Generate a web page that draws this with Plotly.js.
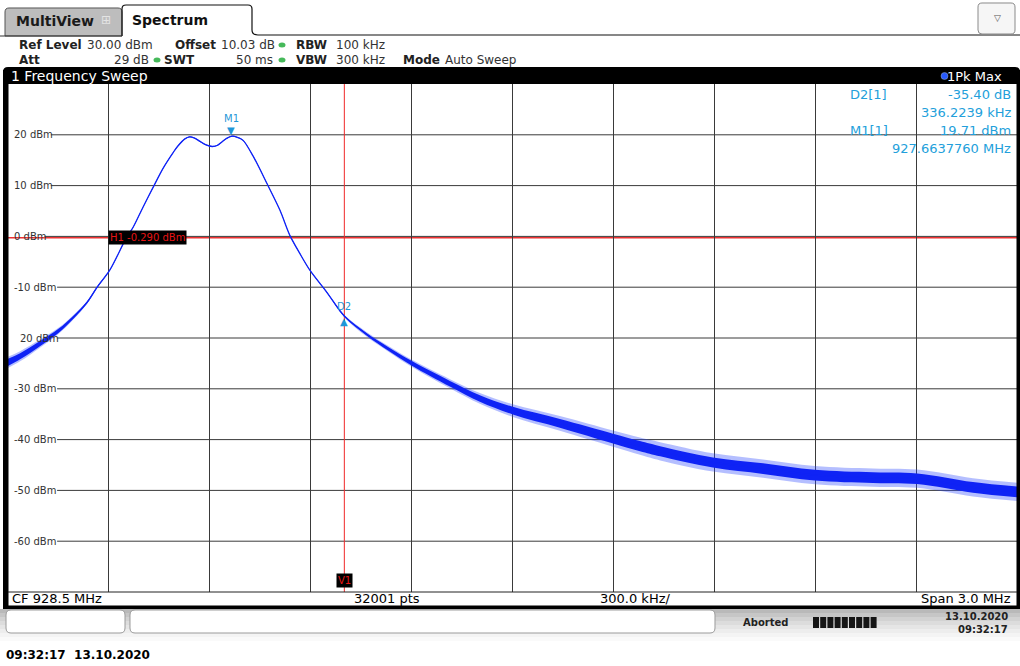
<!DOCTYPE html>
<html><head><meta charset="utf-8">
<script src="https://cdn.plot.ly/plotly-3.0.1.min.js"></script>
<style>html,body{margin:0;padding:0;background:#fff;}#chart{width:1020px;height:666px;}</style>
</head><body><div id="chart"></div>
<script>
// ---- data ----
const freqMHz = [927.000,927.036,927.095,927.150,927.193,927.235,927.265,927.303,927.351,927.372,927.401,927.431,927.461,927.491,927.504,927.526,927.540,927.553,927.571,927.589,927.607,927.622,927.636,927.650,927.664,927.682,927.699,927.728,927.770,927.809,927.838,927.868,927.898,927.948,928.000,928.067,928.130,928.201,928.314,928.403,928.501,928.641,928.799,928.879,928.939,929.096,929.245,929.399,929.572,929.703,929.869,930.000];
const levelDBm = [-24.8,-23.6,-21.1,-18.6,-16.0,-13.0,-10.0,-6.6,-0.4,1.8,5.7,9.6,13.4,16.5,17.7,19.2,19.6,19.4,18.7,18.0,17.7,17.9,18.6,19.3,19.71,19.5,18.9,15.9,10.4,5.1,0.2,-3.4,-6.7,-11.0,-15.69,-19.3,-22.1,-25.0,-29.0,-31.9,-34.3,-36.8,-39.8,-41.3,-42.3,-44.5,-45.7,-47.0,-47.5,-47.7,-49.4,-50.3];
// peak-to-peak noise of the solid trace core and of the spikes (dB)
const coreSpan  = [1.4,1.2,1.0,0.8,0.6,0.4,0.3,0.15,0.15,0.15,0.15,0.15,0.15,0.15,0.15,0.15,0.15,0.15,0.15,0.15,0.15,0.15,0.15,0.15,0.15,0.15,0.15,0.15,0.15,0.15,0.15,0.15,0.15,0.2,0.3,0.5,0.7,0.9,1.1,1.3,1.5,1.7,1.9,2.0,2.0,2.0,2.1,2.1,2.1,2.1,2.1,2.1];
const spikeSpan = [2.2,2.0,1.6,1.2,0.9,0.6,0.4,0.2,0.2,0.2,0.2,0.2,0.2,0.2,0.2,0.2,0.2,0.2,0.2,0.2,0.2,0.2,0.2,0.2,0.2,0.2,0.2,0.2,0.2,0.2,0.2,0.2,0.2,0.3,0.5,0.9,1.1,1.4,1.8,2.1,2.5,2.9,3.2,3.4,3.6,3.6,3.6,3.6,3.6,3.6,3.6,3.6];
const yTicks = [20,10,0,-10,-20,-30,-40,-50,-60];
const yTickText = ["20 dBm","10 dBm","0 dBm","-10 dBm","20 dBm","-30 dBm","-40 dBm","-50 dBm","-60 dBm"];
const xRange = [927.0, 930.0];
const yRange = [-70, 30];
const m1Freq = 927.6637760, m1Level = 19.71;
const d2DeltaKHz = 336.2239, d2DeltaDB = -35.40;
const h1Level = -0.290;
const v1Freq = 928.0;
const markerTable = [["D2[1]","-35.40 dB"],["","336.2239 kHz"],["M1[1]","19.71 dBm"],["","927.6637760 MHz"]];

// ---- geometry helpers (pixel -> paper) ----
const L=8,R=1017,T=84,B=592;
const X=px=>(px-L)/(R-L), Y=py=>(B-py)/(B-T);
function path(pts){
  return pts.map(p=>{const c=p[0];const n=p.slice(1);let s=c;for(let i=0;i<n.length;i+=2){s+=' '+X(n[i]).toFixed(5)+','+Y(n[i+1]).toFixed(5);}return s;}).join(' ');
}
function rrect(x0,y0,x1,y1,r){
  return path([['M',x0+r,y0],['L',x1-r,y0],['Q',x1,y0,x1,y0+r],['L',x1,y1-r],['Q',x1,y1,x1-r,y1],['L',x0+r,y1],['Q',x0,y1,x0,y1-r],['L',x0,y0+r],['Q',x0,y0,x0+r,y0]])+' Z';
}

const d2Freq = m1Freq + d2DeltaKHz/1000;
const d2Level = m1Level + d2DeltaDB;
const blue = 'rgb(15,35,245)';
const band = (arr, sgn) => levelDBm.map((v,i)=>v + sgn*arr[i]/2);

const traces = [
  {x:freqMHz,y:band(spikeSpan,-1),mode:'lines',line:{width:0,shape:'spline'},hoverinfo:'skip',showlegend:false},
  {x:freqMHz,y:band(spikeSpan,1),mode:'lines',line:{width:0,shape:'spline'},fill:'tonexty',fillcolor:'rgba(40,70,255,0.35)',showlegend:false},
  {x:freqMHz,y:band(coreSpan,-1),mode:'lines',line:{width:0,shape:'spline'},showlegend:false},
  {x:freqMHz,y:band(coreSpan,1),mode:'lines',line:{width:0,shape:'spline'},fill:'tonexty',fillcolor:blue,showlegend:false},
  {x:freqMHz,y:levelDBm,mode:'lines',line:{color:blue,width:1.3,shape:'spline',smoothing:0.8},showlegend:false}
];

const font = 'DejaVu Sans, Verdana, sans-serif';
const shapes = [];
const ann = [];
// horizontal grid lines starting after labels
yTicks.forEach((v,i)=>{
  const x0 = (v===-20) ? 18 : 12;
  const endPx = x0 + yTickText[i].length*6.3;
  shapes.push({type:'line',xref:'paper',yref:'y',x0:X(endPx+1),x1:1,y0:v,y1:v,line:{color:'#3a3a3a',width:1},layer:'below'});
  ann.push({xref:'paper',yref:'y',x:X(x0),y:v,xanchor:'left',yanchor:'middle',text:yTickText[i],showarrow:false,font:{family:font,size:10,color:'#333'}});
});
// H1 and V1 lines
shapes.push({type:'line',xref:'paper',yref:'y',x0:0,x1:1,y0:h1Level,y1:h1Level,line:{color:'rgb(235,50,50)',width:1.5},layer:'below'});
shapes.push({type:'line',xref:'x',yref:'paper',x0:v1Freq,x1:v1Freq,y0:0,y1:1,line:{color:'rgb(240,40,40)',width:1},layer:'below'});
// black frame
shapes.push({type:'rect',xref:'paper',yref:'paper',x0:X(3),x1:X(8.5),y0:Y(609),y1:Y(70),fillcolor:'#000',line:{width:0}});
shapes.push({type:'rect',xref:'paper',yref:'paper',x0:X(1016.5),x1:X(1020),y0:Y(609),y1:Y(70),fillcolor:'#000',line:{width:0}});
shapes.push({type:'path',xref:'paper',yref:'paper',path:path([['M',3,84],['L',3,72],['Q',3,67,8,67],['L',1015,67],['Q',1020,67,1020,72],['L',1020,84]])+' Z',fillcolor:'#000',line:{width:0}});
shapes.push({type:'rect',xref:'paper',yref:'paper',x0:X(3),x1:X(1020),y0:Y(609),y1:Y(605.5),fillcolor:'#000',line:{width:0}});
shapes.push({type:'line',xref:'paper',yref:'paper',x0:X(8),x1:X(1017),y0:Y(592),y1:Y(592),line:{color:'#222',width:1}});
// tabs
shapes.push({type:'path',xref:'paper',yref:'paper',path:path([['M',5,36],['L',5,12],['Q',5,8,9,8],['L',118,8],['Q',122,8,122,12],['L',122,36]])+' Z',fillcolor:'#bdbdbd',line:{color:'#555',width:1}});
shapes.push({type:'path',xref:'paper',yref:'paper',path:path([['M',122,36],['L',122,9],['Q',122,5,126,5],['L',248,5],['Q',252,5,252,9],['L',252,30],['Q',252,35,258,35],['L',1020,35]]),fillcolor:'rgba(0,0,0,0)',line:{color:'#111',width:1.2}});
shapes.push({type:'line',xref:'paper',yref:'paper',x0:X(0),x1:X(122),y0:Y(36),y1:Y(36),line:{color:'#333',width:1}});
// dropdown button
shapes.push({type:'path',xref:'paper',yref:'paper',path:rrect(978,3,1015,34,4),fillcolor:'#f6f6f6',line:{color:'#8a8a8a',width:1}});
// green status dots
[[282,45],[157,60],[282,60]].forEach(p=>shapes.push({type:'circle',xref:'paper',yref:'paper',x0:X(p[0]-3.5),x1:X(p[0]+3.5),y0:Y(p[1]+2.5),y1:Y(p[1]-2.5),fillcolor:'rgb(70,185,90)',line:{width:0}}));
// blue trace dot
shapes.push({type:'circle',xref:'paper',yref:'paper',x0:X(941),x1:X(948),y0:Y(79.5),y1:Y(72.5),fillcolor:'rgb(40,90,255)',line:{color:'#9ab',width:0.5}});
// status row gradient
const grad=['#b9b9b9','#c6c6c6','#d2d2d2','#dcdcdc','#e5e5e5','#ededed','#f4f4f4','#fafafa'];
grad.forEach((c,i)=>shapes.push({type:'rect',xref:'paper',yref:'paper',x0:X(0),x1:X(1020),y0:Y(609+4*(i+1)),y1:Y(609+4*i),fillcolor:c,line:{width:0},layer:'below'}));
shapes.push({type:'path',xref:'paper',yref:'paper',path:rrect(6,610,125,633,5),fillcolor:'#fff',line:{color:'#9a9a9a',width:1}});
shapes.push({type:'path',xref:'paper',yref:'paper',path:rrect(130,610,715,633,5),fillcolor:'#fff',line:{color:'#9a9a9a',width:1}});
for(let i=0;i<9;i++){shapes.push({type:'rect',xref:'paper',yref:'paper',x0:X(813+i*7.2),x1:X(813+i*7.2+6),y0:Y(628),y1:Y(617),fillcolor:'#151515',line:{width:0}});}

// text helpers
function t(x,y,text,opt={}){ann.push(Object.assign({xref:'paper',yref:'paper',x:X(x),y:Y(y),text:text,showarrow:false,xanchor:'left',yanchor:'middle',font:{family:font,size:12,color:'#222'}},opt));}
const bold = s=>'<b>'+s+'</b>';
const vf = {family:font,size:12,color:'#333'};
t(14,21,bold('MultiView'),{font:{family:font,size:14,color:'#1a1a1a'}});
t(99,20,'⊞',{font:{family:font,size:12,color:'#e4e4e4'}});
t(130,20,bold('Spectrum'),{font:{family:font,size:14,color:'#111'}});
t(997,18,'▽',{xanchor:'center',font:{family:font,size:9,color:'#555'}});
// info rows
t(17,45,bold('Ref Level'));t(85,45,'30.00 dBm',{font:vf});
t(173,45,bold('Offset'));t(219,45,'10.03 dB',{font:vf});
t(294,45,bold('RBW'));t(334,45,'100 kHz',{font:vf});
t(17,60,bold('Att'));t(151,60,'29 dB',{xanchor:'right',font:vf});
t(162,60,bold('SWT'));t(275,60,'50 ms',{xanchor:'right',font:vf});
t(294,60,bold('VBW'));t(334,60,'300 kHz',{font:vf});
t(401,60,bold('Mode'));t(443,60,'Auto Sweep',{font:vf});
// title bar
t(9,76,'1 Frequency Sweep',{font:{family:font,size:14,color:'#fff'}});
t(1004,76,'1Pk Max',{xanchor:'right',font:{family:font,size:13,color:'#fff'}});
// marker table
const tc='#239fdb';
const rowsY=[95,112.5,130.5,148.5];
markerTable.forEach((r,i)=>{
  if(r[0]) t(848,rowsY[i],r[0],{font:{family:font,size:13,color:tc}});
  t(1013,rowsY[i],r[1],{xanchor:'right',font:{family:font,size:13,color:tc}});
});
// CF bar
t(10,598.5,'CF 928.5 MHz',{font:{family:font,size:13,color:'#000'}});
t(387,598.5,'32001 pts',{xanchor:'center',font:{family:font,size:13,color:'#000'}});
t(635,598.5,'300.0 kHz/',{xanchor:'center',font:{family:font,size:13,color:'#000'}});
t(1013,598.5,'Span 3.0 MHz',{xanchor:'right',font:{family:font,size:13,color:'#000'}});
// status
t(741,622,bold('Aborted'),{font:{family:font,size:10,color:'#222'}});
t(1010,616,bold('13.10.2020'),{xanchor:'right',font:{family:font,size:10,color:'#222'}});
t(1010,629,bold('09:32:17'),{xanchor:'right',font:{family:font,size:10,color:'#222'}});
t(4,655,bold('09:32:17&nbsp;&nbsp;13.10.2020'),{font:{family:font,size:12,color:'#000'}});
// H1 / V1 labels
ann.push({xref:'paper',yref:'y',x:X(108),y:h1Level,xanchor:'left',yanchor:'middle',text:'H1 -0.290 dBm',showarrow:false,bgcolor:'#000',borderpad:1,font:{family:font,size:10,color:'rgb(230,20,20)'}});
ann.push({xref:'x',yref:'paper',x:v1Freq,y:Y(580),xanchor:'center',yanchor:'middle',text:'V1',showarrow:false,bgcolor:'#000',borderpad:1,font:{family:font,size:10,color:'rgb(230,20,20)'}});
// markers
const mc='#1f97d8';
ann.push({xref:'x',yref:'y',x:m1Freq,y:m1Level,yanchor:'bottom',xanchor:'center',text:'▼',showarrow:false,yshift:-2,font:{family:font,size:10,color:mc}});
ann.push({xref:'x',yref:'y',x:m1Freq,y:m1Level,yanchor:'bottom',xanchor:'center',text:'M1',showarrow:false,yshift:10,font:{family:font,size:10,color:mc}});
ann.push({xref:'x',yref:'y',x:d2Freq,y:d2Level,yanchor:'top',xanchor:'center',text:'▲',showarrow:false,yshift:2,font:{family:font,size:10,color:mc}});
ann.push({xref:'x',yref:'y',x:d2Freq,y:d2Level,yanchor:'bottom',xanchor:'center',text:'D2',showarrow:false,yshift:2,font:{family:font,size:10,color:mc}});

const layout = {
  width:1020,height:666,margin:{l:L,r:1020-R,t:T,b:666-B,pad:0},
  paper_bgcolor:'#fff',plot_bgcolor:'rgba(0,0,0,0)',showlegend:false,
  xaxis:{range:xRange,tick0:927,dtick:0.3,showgrid:true,gridcolor:'#3a3a3a',gridwidth:1,showticklabels:false,ticks:'',zeroline:false,showline:false,fixedrange:true},
  yaxis:{range:yRange,showgrid:false,showticklabels:false,ticks:'',zeroline:false,showline:false,fixedrange:true},
  shapes:shapes,annotations:ann
};
Plotly.newPlot('chart',traces,layout,{staticPlot:true,displayModeBar:false});
</script></body></html>
